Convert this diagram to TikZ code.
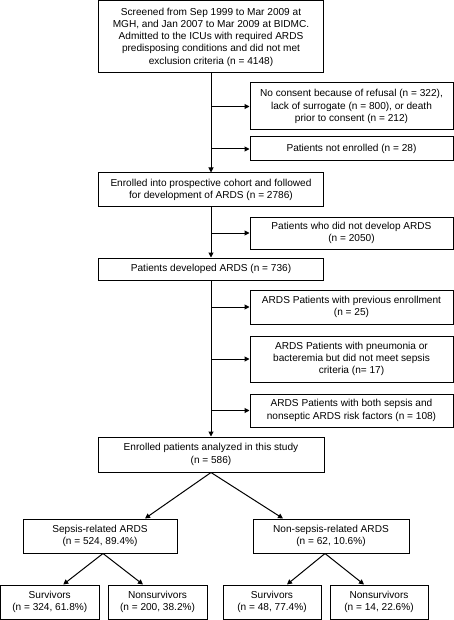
\documentclass[tikz,border=0pt]{standalone}
\usepackage{fontspec}
\setmainfont{Liberation Sans}
\usetikzlibrary{arrows.meta}
\begin{document}
\begin{tikzpicture}[x=1pt,y=1pt,
  box/.style={draw, line width=1pt, inner sep=0pt, align=center,
    font=\fontsize{10.1}{12.3}\selectfont},
  arr/.style={line width=1pt, -{Triangle[length=5pt,width=5pt]}}]
\useasboundingbox (0,0) rectangle (454,-620);
\node[box, minimum width=225, minimum height=72] (top) at (211,-37)
  {Screened from Sep 1999 to Mar 2009 at\\MGH, and Jan 2007 to Mar 2009 at BIDMC.\\Admitted to the ICUs with required ARDS\\predisposing conditions and did not met\\exclusion criteria (n = 4148)};
\node[box, minimum width=203, minimum height=47] (nc) at (351.5,-106.5)
  {No consent because of refusal (n = 322),\\lack of surrogate (n = 800), or death\\prior to consent (n = 212)};
\node[box, minimum width=203, minimum height=24] (ne) at (351.5,-149)
  {Patients not enrolled (n = 28)};
\node[box, minimum width=225, minimum height=34] (enr) at (211,-190)
  {Enrolled into prospective cohort and followed\\for development of ARDS (n = 2786)};
\node[box, minimum width=203, minimum height=32] (nd) at (351.5,-233)
  {Patients who did not develop ARDS\\(n = 2050)};
\node[box, minimum width=225, minimum height=22] (dev) at (211,-269)
  {Patients developed ARDS (n = 736)};
\node[box, minimum width=203, minimum height=34] (prev) at (351.5,-307)
  {ARDS Patients with previous enrollment\\(n = 25)};
\node[box, minimum width=203, minimum height=46] (pn) at (351.5,-359)
  {ARDS Patients with pneumonia or\\bacteremia but did not meet sepsis\\criteria (n= 17)};
\node[box, minimum width=203, minimum height=33] (both) at (351.5,-410.5)
  {ARDS Patients with both sepsis and\\nonseptic ARDS risk factors (n = 108)};
\node[box, minimum width=226, minimum height=35] (ana) at (211,-454.5)
  {Enrolled patients analyzed in this study\\(n = 586)};
\node[box, minimum width=154, minimum height=34] (sep) at (100,-536)
  {Sepsis-related ARDS\\(n = 524, 89.4\%)};
\node[box, minimum width=156, minimum height=34] (nsep) at (331,-536)
  {Non-sepsis-related ARDS\\(n = 62, 10.6\%)};
\node[box, minimum width=98.5, minimum height=34] (s1) at (49.75,-602)
  {Survivors\\(n = 324, 61.8\%)};
\node[box, minimum width=99, minimum height=34] (n1) at (157.5,-602)
  {Nonsurvivors\\(n = 200, 38.2\%)};
\node[box, minimum width=98, minimum height=34] (s2) at (272,-602)
  {Survivors\\(n = 48, 77.4\%)};
\node[box, minimum width=98, minimum height=34] (n2) at (379,-602)
  {Nonsurvivors\\(n = 14, 22.6\%)};
% trunk lines
\draw[arr] (top.south) -- (enr.north);
\draw[arr] (enr.south) -- (dev.north);
\draw[arr] (dev.south) -- (ana.north);
\draw[arr] (top.south |- nc.west) -- (nc.west);
\draw[arr] (top.south |- ne.west) -- (ne.west);
\draw[arr] (enr.south |- nd.west) -- (nd.west);
\draw[arr] (dev.south |- prev.west) -- (prev.west);
\draw[arr] (dev.south |- pn.west) -- (pn.west);
\draw[arr] (dev.south |- both.west) -- (both.west);
% tree
\draw[arr] (ana.south) -- ([xshift=45pt]sep.north);
\draw[arr] (ana.south) -- ([xshift=-48pt]nsep.north);
\draw[arr] ([xshift=3pt]sep.south) -- ([xshift=13.5pt]s1.north);
\draw[arr] ([xshift=3pt]sep.south) -- ([xshift=-14.5pt]n1.north);
\draw[arr] ([xshift=-6pt]nsep.south) -- ([xshift=15pt]s2.north);
\draw[arr] ([xshift=-6pt]nsep.south) -- ([xshift=-15pt]n2.north);
\end{tikzpicture}
\end{document}
